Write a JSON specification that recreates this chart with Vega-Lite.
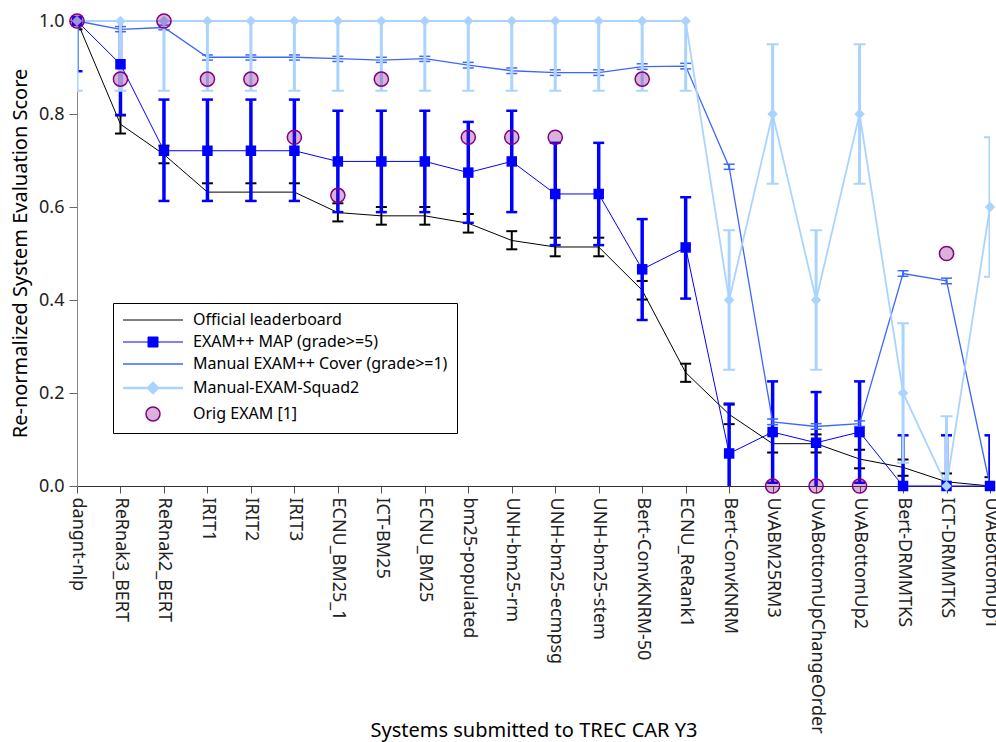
{
  "$schema": "https://vega.github.io/schema/vega-lite/v6.json",
  "width": 913,
  "height": 465,
  "autosize": {"type": "none"},
  "padding": {"left": 77, "top": 21, "right": 6, "bottom": 256},
  "background": "white",
  "config": {
    "font": "Noto Sans",
    "view": {"stroke": null},
    "axis": {"grid": false, "labelFont": "Noto Sans", "titleFont": "Noto Sans", "titleFontWeight": "normal", "titleColor": "black", "labelColor": "#222"}
  },
  "datasets": {
    "off": [
      {"sys": "dangnt-nlp", "s": "Official leaderboard", "v": 1.0, "lo": 0.982, "hi": 1.018},
      {"sys": "ReRnak3_BERT", "s": "Official leaderboard", "v": 0.778, "lo": 0.758, "hi": 0.797},
      {"sys": "ReRnak2_BERT", "s": "Official leaderboard", "v": 0.713, "lo": 0.694, "hi": 0.732},
      {"sys": "IRIT1", "s": "Official leaderboard", "v": 0.632, "lo": 0.613, "hi": 0.651},
      {"sys": "IRIT2", "s": "Official leaderboard", "v": 0.632, "lo": 0.613, "hi": 0.651},
      {"sys": "IRIT3", "s": "Official leaderboard", "v": 0.632, "lo": 0.613, "hi": 0.651},
      {"sys": "ECNU_BM25_1", "s": "Official leaderboard", "v": 0.588, "lo": 0.569, "hi": 0.608},
      {"sys": "ICT-BM25", "s": "Official leaderboard", "v": 0.581, "lo": 0.562, "hi": 0.600},
      {"sys": "ECNU_BM25", "s": "Official leaderboard", "v": 0.581, "lo": 0.562, "hi": 0.600},
      {"sys": "bm25-populated", "s": "Official leaderboard", "v": 0.565, "lo": 0.545, "hi": 0.585},
      {"sys": "UNH-bm25-rm", "s": "Official leaderboard", "v": 0.528, "lo": 0.509, "hi": 0.548},
      {"sys": "UNH-bm25-ecmpsg", "s": "Official leaderboard", "v": 0.514, "lo": 0.494, "hi": 0.534},
      {"sys": "UNH-bm25-stem", "s": "Official leaderboard", "v": 0.514, "lo": 0.494, "hi": 0.534},
      {"sys": "Bert-ConvKNRM-50", "s": "Official leaderboard", "v": 0.421, "lo": 0.401, "hi": 0.441},
      {"sys": "ECNU_ReRank1", "s": "Official leaderboard", "v": 0.244, "lo": 0.224, "hi": 0.263},
      {"sys": "Bert-ConvKNRM", "s": "Official leaderboard", "v": 0.154, "lo": 0.133, "hi": 0.175},
      {"sys": "UvABM25RM3", "s": "Official leaderboard", "v": 0.091, "lo": 0.072, "hi": 0.111},
      {"sys": "UvABottomUpChangeOrder", "s": "Official leaderboard", "v": 0.091, "lo": 0.072, "hi": 0.111},
      {"sys": "UvABottomUp2", "s": "Official leaderboard", "v": 0.058, "lo": 0.038, "hi": 0.078},
      {"sys": "Bert-DRMMTKS", "s": "Official leaderboard", "v": 0.040, "lo": 0.022, "hi": 0.057},
      {"sys": "ICT-DRMMTKS", "s": "Official leaderboard", "v": 0.009, "lo": -0.01, "hi": 0.027},
      {"sys": "UvABottomUp1", "s": "Official leaderboard", "v": 0.0, "lo": -0.019, "hi": 0.019}
    ],
    "map": [
      {"sys": "dangnt-nlp", "s": "EXAM++ MAP (grade>=5)", "v": 1.0, "lo": 0.892, "hi": 1.108},
      {"sys": "ReRnak3_BERT", "s": "EXAM++ MAP (grade>=5)", "v": 0.907, "lo": 0.798, "hi": 1.016},
      {"sys": "ReRnak2_BERT", "s": "EXAM++ MAP (grade>=5)", "v": 0.721, "lo": 0.613, "hi": 0.831},
      {"sys": "IRIT1", "s": "EXAM++ MAP (grade>=5)", "v": 0.721, "lo": 0.613, "hi": 0.831},
      {"sys": "IRIT2", "s": "EXAM++ MAP (grade>=5)", "v": 0.721, "lo": 0.613, "hi": 0.831},
      {"sys": "IRIT3", "s": "EXAM++ MAP (grade>=5)", "v": 0.721, "lo": 0.613, "hi": 0.831},
      {"sys": "ECNU_BM25_1", "s": "EXAM++ MAP (grade>=5)", "v": 0.698, "lo": 0.589, "hi": 0.807},
      {"sys": "ICT-BM25", "s": "EXAM++ MAP (grade>=5)", "v": 0.698, "lo": 0.589, "hi": 0.807},
      {"sys": "ECNU_BM25", "s": "EXAM++ MAP (grade>=5)", "v": 0.698, "lo": 0.589, "hi": 0.807},
      {"sys": "bm25-populated", "s": "EXAM++ MAP (grade>=5)", "v": 0.674, "lo": 0.566, "hi": 0.783},
      {"sys": "UNH-bm25-rm", "s": "EXAM++ MAP (grade>=5)", "v": 0.698, "lo": 0.589, "hi": 0.807},
      {"sys": "UNH-bm25-ecmpsg", "s": "EXAM++ MAP (grade>=5)", "v": 0.628, "lo": 0.518, "hi": 0.738},
      {"sys": "UNH-bm25-stem", "s": "EXAM++ MAP (grade>=5)", "v": 0.628, "lo": 0.518, "hi": 0.738},
      {"sys": "Bert-ConvKNRM-50", "s": "EXAM++ MAP (grade>=5)", "v": 0.466, "lo": 0.357, "hi": 0.574},
      {"sys": "ECNU_ReRank1", "s": "EXAM++ MAP (grade>=5)", "v": 0.513, "lo": 0.403, "hi": 0.621},
      {"sys": "Bert-ConvKNRM", "s": "EXAM++ MAP (grade>=5)", "v": 0.070, "lo": -0.039, "hi": 0.177},
      {"sys": "UvABM25RM3", "s": "EXAM++ MAP (grade>=5)", "v": 0.116, "lo": 0.007, "hi": 0.225},
      {"sys": "UvABottomUpChangeOrder", "s": "EXAM++ MAP (grade>=5)", "v": 0.093, "lo": -0.016, "hi": 0.202},
      {"sys": "UvABottomUp2", "s": "EXAM++ MAP (grade>=5)", "v": 0.116, "lo": 0.007, "hi": 0.225},
      {"sys": "Bert-DRMMTKS", "s": "EXAM++ MAP (grade>=5)", "v": 0.0, "lo": -0.109, "hi": 0.109},
      {"sys": "ICT-DRMMTKS", "s": "EXAM++ MAP (grade>=5)", "v": 0.0, "lo": -0.109, "hi": 0.109},
      {"sys": "UvABottomUp1", "s": "EXAM++ MAP (grade>=5)", "v": 0.0, "lo": -0.109, "hi": 0.109}
    ],
    "cov": [
      {"sys": "dangnt-nlp", "s": "Manual EXAM++ Cover (grade>=1)", "v": 1.0, "lo": 1.0, "hi": 1.0},
      {"sys": "ReRnak3_BERT", "s": "Manual EXAM++ Cover (grade>=1)", "v": 0.982, "lo": 0.977, "hi": 0.988},
      {"sys": "ReRnak2_BERT", "s": "Manual EXAM++ Cover (grade>=1)", "v": 0.986, "lo": 0.981, "hi": 0.991},
      {"sys": "IRIT1", "s": "Manual EXAM++ Cover (grade>=1)", "v": 0.922, "lo": 0.916, "hi": 0.927},
      {"sys": "IRIT2", "s": "Manual EXAM++ Cover (grade>=1)", "v": 0.922, "lo": 0.916, "hi": 0.927},
      {"sys": "IRIT3", "s": "Manual EXAM++ Cover (grade>=1)", "v": 0.922, "lo": 0.916, "hi": 0.927},
      {"sys": "ECNU_BM25_1", "s": "Manual EXAM++ Cover (grade>=1)", "v": 0.919, "lo": 0.913, "hi": 0.924},
      {"sys": "ICT-BM25", "s": "Manual EXAM++ Cover (grade>=1)", "v": 0.916, "lo": 0.911, "hi": 0.922},
      {"sys": "ECNU_BM25", "s": "Manual EXAM++ Cover (grade>=1)", "v": 0.919, "lo": 0.913, "hi": 0.924},
      {"sys": "bm25-populated", "s": "Manual EXAM++ Cover (grade>=1)", "v": 0.905, "lo": 0.899, "hi": 0.911},
      {"sys": "UNH-bm25-rm", "s": "Manual EXAM++ Cover (grade>=1)", "v": 0.893, "lo": 0.887, "hi": 0.899},
      {"sys": "UNH-bm25-ecmpsg", "s": "Manual EXAM++ Cover (grade>=1)", "v": 0.889, "lo": 0.883, "hi": 0.895},
      {"sys": "UNH-bm25-stem", "s": "Manual EXAM++ Cover (grade>=1)", "v": 0.889, "lo": 0.883, "hi": 0.895},
      {"sys": "Bert-ConvKNRM-50", "s": "Manual EXAM++ Cover (grade>=1)", "v": 0.902, "lo": 0.896, "hi": 0.908},
      {"sys": "ECNU_ReRank1", "s": "Manual EXAM++ Cover (grade>=1)", "v": 0.903, "lo": 0.897, "hi": 0.909},
      {"sys": "Bert-ConvKNRM", "s": "Manual EXAM++ Cover (grade>=1)", "v": 0.686, "lo": 0.681, "hi": 0.692},
      {"sys": "UvABM25RM3", "s": "Manual EXAM++ Cover (grade>=1)", "v": 0.138, "lo": 0.132, "hi": 0.144},
      {"sys": "UvABottomUpChangeOrder", "s": "Manual EXAM++ Cover (grade>=1)", "v": 0.128, "lo": 0.122, "hi": 0.134},
      {"sys": "UvABottomUp2", "s": "Manual EXAM++ Cover (grade>=1)", "v": 0.134, "lo": 0.128, "hi": 0.140},
      {"sys": "Bert-DRMMTKS", "s": "Manual EXAM++ Cover (grade>=1)", "v": 0.457, "lo": 0.451, "hi": 0.463},
      {"sys": "ICT-DRMMTKS", "s": "Manual EXAM++ Cover (grade>=1)", "v": 0.441, "lo": 0.435, "hi": 0.447},
      {"sys": "UvABottomUp1", "s": "Manual EXAM++ Cover (grade>=1)", "v": 0.0, "lo": 0.0, "hi": 0.0}
    ],
    "sq": [
      {"sys": "dangnt-nlp", "s": "Manual-EXAM-Squad2", "v": 1.0, "lo": 0.85, "hi": 1.15},
      {"sys": "ReRnak3_BERT", "s": "Manual-EXAM-Squad2", "v": 1.0, "lo": 0.85, "hi": 1.15},
      {"sys": "ReRnak2_BERT", "s": "Manual-EXAM-Squad2", "v": 1.0, "lo": 0.85, "hi": 1.15},
      {"sys": "IRIT1", "s": "Manual-EXAM-Squad2", "v": 1.0, "lo": 0.85, "hi": 1.15},
      {"sys": "IRIT2", "s": "Manual-EXAM-Squad2", "v": 1.0, "lo": 0.85, "hi": 1.15},
      {"sys": "IRIT3", "s": "Manual-EXAM-Squad2", "v": 1.0, "lo": 0.85, "hi": 1.15},
      {"sys": "ECNU_BM25_1", "s": "Manual-EXAM-Squad2", "v": 1.0, "lo": 0.85, "hi": 1.15},
      {"sys": "ICT-BM25", "s": "Manual-EXAM-Squad2", "v": 1.0, "lo": 0.85, "hi": 1.15},
      {"sys": "ECNU_BM25", "s": "Manual-EXAM-Squad2", "v": 1.0, "lo": 0.85, "hi": 1.15},
      {"sys": "bm25-populated", "s": "Manual-EXAM-Squad2", "v": 1.0, "lo": 0.85, "hi": 1.15},
      {"sys": "UNH-bm25-rm", "s": "Manual-EXAM-Squad2", "v": 1.0, "lo": 0.85, "hi": 1.15},
      {"sys": "UNH-bm25-ecmpsg", "s": "Manual-EXAM-Squad2", "v": 1.0, "lo": 0.85, "hi": 1.15},
      {"sys": "UNH-bm25-stem", "s": "Manual-EXAM-Squad2", "v": 1.0, "lo": 0.85, "hi": 1.15},
      {"sys": "Bert-ConvKNRM-50", "s": "Manual-EXAM-Squad2", "v": 1.0, "lo": 0.85, "hi": 1.15},
      {"sys": "ECNU_ReRank1", "s": "Manual-EXAM-Squad2", "v": 1.0, "lo": 0.85, "hi": 1.15},
      {"sys": "Bert-ConvKNRM", "s": "Manual-EXAM-Squad2", "v": 0.4, "lo": 0.25, "hi": 0.55},
      {"sys": "UvABM25RM3", "s": "Manual-EXAM-Squad2", "v": 0.8, "lo": 0.65, "hi": 0.95},
      {"sys": "UvABottomUpChangeOrder", "s": "Manual-EXAM-Squad2", "v": 0.4, "lo": 0.25, "hi": 0.55},
      {"sys": "UvABottomUp2", "s": "Manual-EXAM-Squad2", "v": 0.8, "lo": 0.65, "hi": 0.95},
      {"sys": "Bert-DRMMTKS", "s": "Manual-EXAM-Squad2", "v": 0.2, "lo": 0.05, "hi": 0.35},
      {"sys": "ICT-DRMMTKS", "s": "Manual-EXAM-Squad2", "v": 0.0, "lo": -0.15, "hi": 0.15},
      {"sys": "UvABottomUp1", "s": "Manual-EXAM-Squad2", "v": 0.6, "lo": 0.45, "hi": 0.75}
    ],
    "orig": [
      {"sys": "dangnt-nlp", "s": "Orig EXAM [1]", "v": 1.0},
      {"sys": "ReRnak3_BERT", "s": "Orig EXAM [1]", "v": 0.875},
      {"sys": "ReRnak2_BERT", "s": "Orig EXAM [1]", "v": 1.0},
      {"sys": "IRIT1", "s": "Orig EXAM [1]", "v": 0.875},
      {"sys": "IRIT2", "s": "Orig EXAM [1]", "v": 0.875},
      {"sys": "IRIT3", "s": "Orig EXAM [1]", "v": 0.75},
      {"sys": "ECNU_BM25_1", "s": "Orig EXAM [1]", "v": 0.625},
      {"sys": "ICT-BM25", "s": "Orig EXAM [1]", "v": 0.875},
      {"sys": "bm25-populated", "s": "Orig EXAM [1]", "v": 0.75},
      {"sys": "UNH-bm25-rm", "s": "Orig EXAM [1]", "v": 0.75},
      {"sys": "UNH-bm25-ecmpsg", "s": "Orig EXAM [1]", "v": 0.75},
      {"sys": "Bert-ConvKNRM-50", "s": "Orig EXAM [1]", "v": 0.875},
      {"sys": "UvABM25RM3", "s": "Orig EXAM [1]", "v": 0.0},
      {"sys": "UvABottomUpChangeOrder", "s": "Orig EXAM [1]", "v": 0.0},
      {"sys": "UvABottomUp2", "s": "Orig EXAM [1]", "v": 0.0},
      {"sys": "ICT-DRMMTKS", "s": "Orig EXAM [1]", "v": 0.5}
    ]
  },
  "encoding": {
    "x": {
      "field": "sys", "type": "nominal",
      "scale": {"type": "point", "padding": 0, "domain": ["dangnt-nlp", "ReRnak3_BERT", "ReRnak2_BERT", "IRIT1", "IRIT2", "IRIT3", "ECNU_BM25_1", "ICT-BM25", "ECNU_BM25", "bm25-populated", "UNH-bm25-rm", "UNH-bm25-ecmpsg", "UNH-bm25-stem", "Bert-ConvKNRM-50", "ECNU_ReRank1", "Bert-ConvKNRM", "UvABM25RM3", "UvABottomUpChangeOrder", "UvABottomUp2", "Bert-DRMMTKS", "ICT-DRMMTKS", "UvABottomUp1"]},
      "axis": {"title": "Systems submitted to TREC CAR Y3", "labelAngle": 90, "labelFontSize": 18, "labelLimit": 400, "labelOverlap": false, "tickSize": 7, "labelPadding": 4, "domainColor": "#333", "tickColor": "#555", "titleFontSize": 20, "titleY": 244, "titleBaseline": "middle"}
    },
    "y": {
      "field": "v", "type": "quantitative",
      "scale": {"domain": [0, 1], "nice": false, "zero": false},
      "axis": {"title": "Re-normalized System Evaluation Score", "values": [0, 0.2, 0.4, 0.6, 0.8, 1.0], "format": ".1f", "labelFontSize": 18, "tickSize": 8, "labelPadding": 5, "domainColor": "#888", "tickColor": "#666", "titleFontSize": 20, "titleX": -57, "titleY": 232, "titleAlign": "center", "titleBaseline": "middle"}
    }
  },
  "layer": [
    {
      "data": {"name": "off"},
      "mark": {"type": "line", "strokeWidth": 1},
      "encoding": {
        "color": {
          "field": "s", "type": "nominal",
          "scale": {"domain": ["Official leaderboard", "EXAM++ MAP (grade>=5)", "Manual EXAM++ Cover (grade>=1)", "Manual-EXAM-Squad2", "Orig EXAM [1]"], "range": ["#000000", "#0000ff", "#3d66ff", "#aad4ff", "#800080"]},
          "legend": {
            "orient": "none", "legendX": 36, "legendY": 282, "title": null,
            "fillColor": "white", "strokeColor": "black", "padding": 9,
            "symbolSize": 100, "symbolStrokeWidth": 1.5, "symbolOffset": -2, "labelOffset": 57, "rowPadding": 6,
            "labelFont": "Noto Sans", "labelFontSize": 16, "labelColor": "black", "labelLimit": 400,
            "encode": {"symbols": {"update": {
              "shape": {"signal": "datum.value === 'EXAM++ MAP (grade>=5)' ? 'M-1,0H11M4,-1H6V1H4Z' : datum.value === 'Manual-EXAM-Squad2' ? 'M-1,0H11M5,-1L6,0L5,1L4,0Z' : datum.value === 'Orig EXAM [1]' ? 'M3.6,0A1.4,1.4,0,1,1,6.4,0A1.4,1.4,0,1,1,3.6,0Z' : 'M-1,0H11'"},
              "fill": {"signal": "datum.value === 'EXAM++ MAP (grade>=5)' ? '#0000ff' : datum.value === 'Manual-EXAM-Squad2' ? '#aad4ff' : datum.value === 'Orig EXAM [1]' ? '#d9b3d9' : 'transparent'"},
              "stroke": {"signal": "datum.value === 'Official leaderboard' ? '#000000' : datum.value === 'EXAM++ MAP (grade>=5)' ? '#0000ff' : datum.value === 'Manual EXAM++ Cover (grade>=1)' ? '#3d66ff' : datum.value === 'Manual-EXAM-Squad2' ? '#c4e0ff' : '#800080'"},
              "strokeWidth": {"signal": "datum.value === 'Manual-EXAM-Squad2' ? 2.5 : datum.value === 'Manual EXAM++ Cover (grade>=1)' ? 1.5 : datum.value === 'Orig EXAM [1]' ? 1.5 : 1"},
              "opacity": {"value": 1}
            }}}
          }
        }
      }
    },
    {"data": {"name": "off"}, "mark": {"type": "rule", "color": "#000000", "strokeWidth": 2, "clip": true}, "encoding": {"y": {"field": "lo", "type": "quantitative", "scale": {"domain": [0, 1], "nice": false, "zero": false}}, "y2": {"field": "hi"}}},
    {"data": {"name": "off"}, "mark": {"type": "tick", "color": "#000000", "size": 11, "thickness": 2, "opacity": 1, "clip": true}, "encoding": {"y": {"field": "lo", "type": "quantitative", "scale": {"domain": [0, 1], "nice": false, "zero": false}}}},
    {"data": {"name": "off"}, "mark": {"type": "tick", "color": "#000000", "size": 11, "thickness": 2, "opacity": 1, "clip": true}, "encoding": {"y": {"field": "hi", "type": "quantitative", "scale": {"domain": [0, 1], "nice": false, "zero": false}}}},

    {"data": {"name": "map"}, "mark": {"type": "line", "color": "#0000ff", "strokeWidth": 1}, "encoding": {}},
    {"data": {"name": "map"}, "mark": {"type": "rule", "color": "#0000ff", "strokeWidth": 3.5, "clip": true}, "encoding": {"y": {"field": "lo", "type": "quantitative", "scale": {"domain": [0, 1], "nice": false, "zero": false}}, "y2": {"field": "hi"}}},
    {"data": {"name": "map"}, "mark": {"type": "tick", "color": "#0000ff", "size": 11, "thickness": 2.5, "opacity": 1, "clip": true}, "encoding": {"y": {"field": "lo", "type": "quantitative", "scale": {"domain": [0, 1], "nice": false, "zero": false}}}},
    {"data": {"name": "map"}, "mark": {"type": "tick", "color": "#0000ff", "size": 11, "thickness": 2.5, "opacity": 1, "clip": true}, "encoding": {"y": {"field": "hi", "type": "quantitative", "scale": {"domain": [0, 1], "nice": false, "zero": false}}}},

    {"data": {"name": "cov"}, "mark": {"type": "line", "color": "#3d66ff", "strokeWidth": 1.3}, "encoding": {}},
    {"data": {"name": "cov"}, "mark": {"type": "rule", "color": "#3d66ff", "strokeWidth": 2, "clip": true}, "encoding": {"y": {"field": "lo", "type": "quantitative", "scale": {"domain": [0, 1], "nice": false, "zero": false}}, "y2": {"field": "hi"}}},
    {"data": {"name": "cov"}, "mark": {"type": "tick", "color": "#3d66ff", "size": 11, "thickness": 1.5, "opacity": 1, "clip": true}, "encoding": {"y": {"field": "lo", "type": "quantitative", "scale": {"domain": [0, 1], "nice": false, "zero": false}}}},
    {"data": {"name": "cov"}, "mark": {"type": "tick", "color": "#3d66ff", "size": 11, "thickness": 1.5, "opacity": 1, "clip": true}, "encoding": {"y": {"field": "hi", "type": "quantitative", "scale": {"domain": [0, 1], "nice": false, "zero": false}}}},

    {"data": {"name": "sq"}, "mark": {"type": "line", "color": "#aad4ff", "strokeWidth": 1.8}, "encoding": {}},
    {"data": {"name": "sq"}, "mark": {"type": "rule", "color": "#aad4ff", "strokeWidth": 3, "clip": true}, "encoding": {"y": {"field": "lo", "type": "quantitative", "scale": {"domain": [0, 1], "nice": false, "zero": false}}, "y2": {"field": "hi"}}},
    {"data": {"name": "sq"}, "mark": {"type": "tick", "color": "#aad4ff", "size": 12, "thickness": 2, "opacity": 1, "clip": true}, "encoding": {"y": {"field": "lo", "type": "quantitative", "scale": {"domain": [0, 1], "nice": false, "zero": false}}}},
    {"data": {"name": "sq"}, "mark": {"type": "tick", "color": "#aad4ff", "size": 12, "thickness": 2, "opacity": 1, "clip": true}, "encoding": {"y": {"field": "hi", "type": "quantitative", "scale": {"domain": [0, 1], "nice": false, "zero": false}}}},

    {"data": {"name": "map"}, "mark": {"type": "point", "shape": "square", "filled": true, "size": 110, "color": "#0000ff", "opacity": 1}, "encoding": {}},
    {"data": {"name": "sq"}, "mark": {"type": "point", "shape": "diamond", "filled": true, "size": 110, "color": "#aad4ff", "opacity": 1}, "encoding": {}},
    {"data": {"name": "orig"}, "mark": {"type": "point", "shape": "circle", "filled": true, "size": 200, "fill": "#800080", "fillOpacity": 0.3, "stroke": "#800080", "strokeWidth": 1.5, "strokeOpacity": 1, "opacity": 1}, "encoding": {}}
  ]
}
